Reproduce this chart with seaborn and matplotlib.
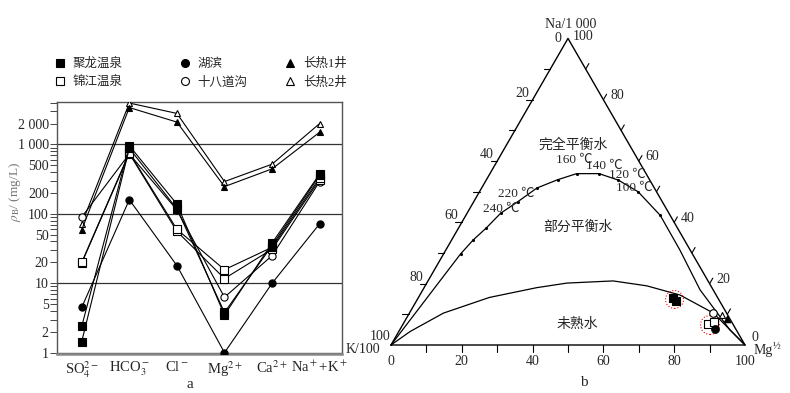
import numpy as np
import pandas as pd
import matplotlib
matplotlib.use("Agg")
import matplotlib.pyplot as plt
import seaborn as sns
from matplotlib.lines import Line2D
from matplotlib.patches import Circle
from matplotlib.ticker import FixedLocator, FixedFormatter, LogLocator, NullFormatter

# ---------------- panel a: concentrations (mg/L) ----------------
ions = ["SO$_4^{2-}$", "HCO$_3^-$", "Cl$^-$", "Mg$^{2+}$", "Ca$^{2+}$", "Na$^+$+K$^+$"]

julong_1 = [2.4, 960, 138, 3.5, 38, 375]
julong_2 = [1.45, 880, 118, 3.8, 35, 360]
jinjiang_1 = [20, 760, 60, 15.7, 33, 330]
jinjiang_2 = [19.6, 740, 56, 11.7, 31, 310]
hubin = [4.5, 160, 18, 1.0, 10, 72]
shibadaogou = [90, 730, 114, 6.3, 25, 292]
changre_1 = [59, 3400, 2100, 247, 445, 1500]
changre_2 = [72, 3950, 2800, 292, 520, 2000]

series_names = ["聚龙温泉", "锦江温泉", "湖滨", "十八道沟", "长热1井", "长热2井"]

# ---------------- panel b: ternary Na/1000 - K/100 - Mg^1/2 (percent) ----------------
# full equilibrium curve (Mg %, Na %), K = 100 - Mg - Na
equil_mg = [0, 4.8, 6.1, 7.8, 9.5, 12.5, 15.6, 20.1, 24.5, 30.8, 37.3, 44.8, 54.9, 66.1, 78.3, 93.3, 100]
equil_na = [0, 29.7, 34.3, 38.1, 43.0, 46.8, 51.2, 53.9, 55.9, 55.9, 53.8, 50.0, 42.3, 31.0, 18.0, 4.9, 0]
# temperature dots on the curve
dots_mg = [4.8, 6.1, 7.8, 9.5, 12.5, 15.6, 20.1, 24.5, 30.8, 37.3, 44.8, 54.9]
dots_na = [29.7, 34.3, 38.1, 43.0, 46.8, 51.2, 53.9, 55.9, 55.9, 53.8, 50.0, 42.3]
# immature water boundary
immat_mg = [0, 3.2, 9.6, 20.0, 31.8, 39.6, 52.3, 62.6, 73.5, 85.9, 100]
immat_na = [0, 4.4, 10.4, 15.5, 18.7, 20.2, 20.9, 19.3, 16.3, 10.4, 0]

tern_julong_mg, tern_julong_na = [72.0, 73.3], [15.3, 14.5]
tern_jinjiang_mg, tern_jinjiang_na = [86.2, 87.5], [6.9, 7.6]
tern_hubin_mg, tern_hubin_na = [88.9], [5.2]
tern_shiba_mg, tern_shiba_na = [85.8], [10.6]
tern_cr1_mg, tern_cr1_na = [90.6], [8.4]
tern_cr2_mg, tern_cr2_na = [88.5], [9.8]

W, H = 790, 393

sns.set_style("ticks")
plt.rcParams["font.family"] = ["Liberation Serif", "Noto Sans CJK SC"]
plt.rcParams["mathtext.fontset"] = "stix"

fig = plt.figure(figsize=(W / 100, H / 100), dpi=100)

# ---------- panel a ----------
ax = fig.add_axes([57 / W, 1 - 354 / H, 285 / W, (354 - 101.7) / H])
styles = {
    "聚龙温泉": dict(marker="s", mfc="black", ms=5.2),
    "锦江温泉": dict(marker="s", mfc="white", ms=5.2),
    "湖滨": dict(marker="o", mfc="black", ms=5.2),
    "十八道沟": dict(marker="o", mfc="white", ms=5.2),
    "长热1井": dict(marker="^", mfc="black", ms=4.6),
    "长热2井": dict(marker="^", mfc="white", ms=4.6),
}
samples = [
    ("长热2井", changre_2), ("长热1井", changre_1), ("十八道沟", shibadaogou),
    ("湖滨", hubin), ("锦江温泉", jinjiang_2), ("锦江温泉", jinjiang_1),
    ("聚龙温泉", julong_2), ("聚龙温泉", julong_1),
]
rows = []
for sid, (name, vals) in enumerate(samples):
    for i, v in enumerate(vals):
        rows.append(dict(sample=sid, name=name, ion=i, value=v))
df_a = pd.DataFrame(rows)

for sid, (name, _) in enumerate(samples):
    sub = df_a[df_a["sample"] == sid]
    st = styles[name]
    sns.lineplot(data=sub, x="ion", y="value", ax=ax, color="black", lw=0.8,
                 marker=st["marker"], markersize=st["ms"], markerfacecolor=st["mfc"],
                 markeredgecolor="black", markeredgewidth=0.8, legend=False, zorder=3)

ax.set_yscale("log")
ax.set_ylim(0.958, 4130)
ax.set_xlim(-0.52, 5.47)
for v in [10, 100, 1000]:
    ax.axhline(v, color="#333333", lw=0.9, zorder=1)
ax.axhline(1, color="#555555", lw=1.0, zorder=1)

major = [1, 2, 5, 10, 20, 50, 100, 200, 500, 1000, 2000]
ax.yaxis.set_major_locator(FixedLocator(major))
ax.yaxis.set_major_formatter(FixedFormatter(["1", "2", "5", "10", "20", "50", "100", "200", "500", "1 000", "2 000"]))
ax.yaxis.set_minor_locator(LogLocator(base=10, subs=np.arange(2, 10)))
ax.yaxis.set_minor_formatter(NullFormatter())
ax.tick_params(axis="y", which="both", direction="out", length=5, width=0.7, color="#444444",
               labelsize=10, pad=1)
ax.set_xticks(range(6))
ax.set_xticklabels(ions)
ax.tick_params(axis="x", length=0, labelsize=10.5, pad=4)
ax.set_xlabel("")
ax.set_ylabel("")
for sp in ax.spines.values():
    sp.set_color("#555555")
    sp.set_linewidth(1.0)
ax.spines["bottom"].set_linewidth(1.8)
ax.spines["bottom"].set_color("#888888")

fig.text(15 / W, 1 - 192 / H, "$\\rho_{\\mathrm{B}}$/ (mg/L)", rotation=90, ha="center", va="center",
         fontsize=9.5, color="#777777")

legend_cols = [(54, ["聚龙温泉", "锦江温泉"]), (179, ["湖滨", "十八道沟"]), (284, ["长热1井", "长热2井"])]
for xl, names in legend_cols:
    handles = [Line2D([], [], ls="none", marker=styles[n]["marker"], markersize=styles[n]["ms"] * 1.1,
                      markerfacecolor=styles[n]["mfc"], markeredgecolor="black", markeredgewidth=0.8)
               for n in names]
    leg = fig.legend(handles, names, loc="upper left", bbox_to_anchor=(xl / W, 1 - 58 / H),
                     bbox_transform=fig.transFigure, frameon=False, fontsize=9, borderpad=0,
                     borderaxespad=0, handlelength=1.0, handletextpad=0.5, labelspacing=0.5)
fig.text(190 / W, 1 - 385 / H, "a", ha="center", va="center", fontsize=11)

# ---------- panel b ----------
ax2 = fig.add_axes([350 / W, 0, 440 / W, 1])
S = 3.54
ax2.set_xlim((350 - 391) / S, (790 - 391) / S)
ax2.set_ylim((345 - 393) / S, 345 / S)
ax2.axis("off")
R3 = np.sqrt(3) / 2


def tern(mg, na):
    mg = np.asarray(mg, float)
    na = np.asarray(na, float)
    return mg + na / 2, na * R3


def px(x, y):
    return (x - 391) / S, (345 - y) / S


tx, ty = tern([0, 100, 0, 0], [0, 0, 100, 0])
sns.lineplot(x=tx, y=ty, ax=ax2, sort=False, estimator=None, color="black", lw=1.0)

for t in range(10, 100, 10):
    # bottom
    ax2.plot([t, t], [0, -2.0], color="black", lw=0.8)
    # left edge (K = t)
    lx, ly = tern(0, 100 - t)
    ax2.plot([lx, lx - 1.8], [ly, ly], color="black", lw=0.8)
    # right edge (Na = t)
    rx, ry = tern(100 - t, t)
    ax2.plot([rx, rx + 0.9], [ry, ry + 1.56], color="black", lw=0.8)

lab = dict(fontsize=10, ha="center", va="center")
for t in range(0, 101, 20):
    ax2.text(t, -4.7, str(t), **lab)
for t in [20, 40, 60, 80]:
    lx, ly = tern(0, 100 - t)
    ax2.text(lx - 2.9, ly + 1.8, str(t), **lab)
    rx, ry = tern(100 - t, t)
    ax2.text(rx + 3.9, ry + 1.2, str(t), **lab)
top = tern(0, 100)
ax2.text(top[0] - 2.8, top[1] - 0.1, "0", **lab)
ax2.text(top[0] + 4.2, top[1] + 0.5, "100", **lab)
ax2.text(top[0] + 0.9, top[1] + 4.0, "Na/1 000", **lab)
ax2.text(-3.1, 2.3, "100", **lab)
ax2.text(-8.0, -1.2, "K/100", **lab)
ax2.text(102.8, 2.0, "0", **lab)
ax2.text(105.0, -1.5, "Mg", **lab)
ax2.text(107.7, -0.2, "½", fontsize=7.5, ha="left", va="center")

ex, ey = tern(equil_mg, equil_na)
sns.lineplot(x=ex, y=ey, ax=ax2, sort=False, estimator=None, color="black", lw=0.9)
dx, dy = tern(dots_mg, dots_na)
sns.scatterplot(x=dx, y=dy, ax=ax2, color="black", s=5, linewidth=0, zorder=4)
ix, iy = tern(immat_mg, immat_na)
sns.lineplot(x=ix, y=iy, ax=ax2, sort=False, estimator=None, color="black", lw=0.9)

temp_labels = [("160 ℃", 574, 160), ("140 ℃", 604, 166), ("120 ℃", 627, 175),
               ("100 ℃", 634, 188), ("220 ℃", 516, 194), ("240 ℃", 501, 209)]
for s_, x_, y_ in temp_labels:
    ax2.text(*px(x_, y_), s_, fontsize=9.5, ha="center", va="center")
ax2.text(*px(573, 145), "完全平衡水", fontsize=10, ha="center", va="center")
ax2.text(*px(578, 227), "部分平衡水", fontsize=10, ha="center", va="center")
ax2.text(*px(577, 324), "未熟水", fontsize=10, ha="center", va="center")

tern_pts = [
    (tern_julong_mg, tern_julong_na, "s", "black", 34),
    (tern_jinjiang_mg, tern_jinjiang_na, "s", "white", 34),
    (tern_hubin_mg, tern_hubin_na, "o", "black", 30),
    (tern_shiba_mg, tern_shiba_na, "o", "white", 30),
    (tern_cr2_mg, tern_cr2_na, "^", "white", 18),
    (tern_cr1_mg, tern_cr1_na, "^", "black", 22),
]
for mg, na, mk, fc, sz in tern_pts:
    x_, y_ = tern(mg, na)
    sns.scatterplot(x=x_, y=y_, ax=ax2, marker=mk, s=sz, facecolor=fc, edgecolor="black",
                    linewidth=0.8, zorder=5)

ax2.add_patch(Circle(px(674.5, 299.5), 9 / S, fill=False, ec="red", ls=":", lw=0.8, zorder=4))
ax2.add_patch(Circle(px(710, 325), 9.5 / S, fill=False, ec="red", ls=":", lw=0.8, zorder=4))
fig.text(584 / W, 1 - 383 / H, "b", ha="center", va="center", fontsize=11)

fig.savefig("out.png", dpi=100)
